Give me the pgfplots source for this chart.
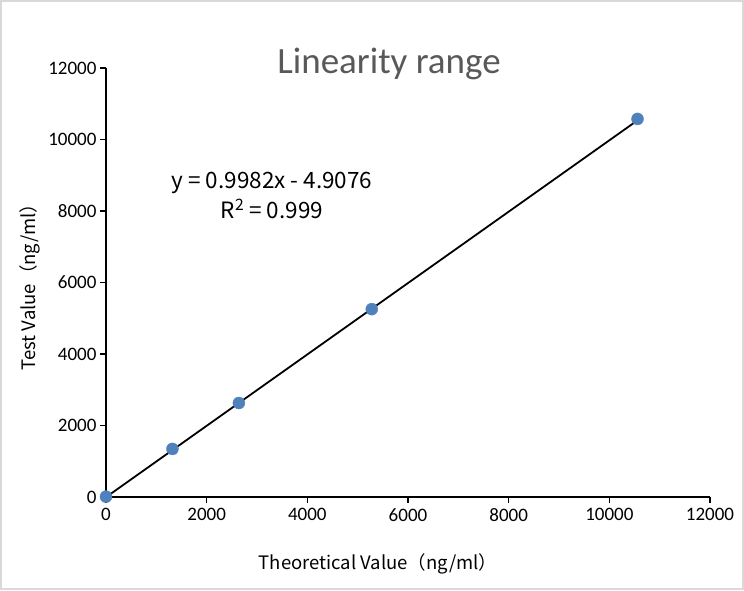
\documentclass[border=0pt]{standalone}
\usepackage{pgfplots}
\pgfplotsset{compat=1.18}
\usepackage{fontspec}
\setmainfont{Carlito}
\newfontfamily\cjk{Noto Sans CJK SC}
\definecolor{ptblue}{RGB}{79,129,189}
\definecolor{titlegray}{RGB}{89,89,89}
\definecolor{framegray}{RGB}{217,217,217}
\begin{document}
\begin{tikzpicture}
\draw[framegray,line width=2pt] (1pt,1pt) rectangle (743pt,589pt);
\useasboundingbox (0pt,0pt) rectangle (744pt,590pt);
\begin{axis}[
    at={(106pt,93pt)}, anchor=origin,
    scale only axis, width=604pt, height=429pt,
    xmin=0, xmax=12000, ymin=0, ymax=12000,
    axis x line=bottom, axis y line=left,
    axis line style={line width=1.5pt,-},
    xtick={0,2000,...,12000}, ytick={0,2000,...,12000},
    tick style={black,line width=1.2pt},
    tick align=outside, major tick length=6pt,
    scaled ticks=false,
    /pgf/number format/assume math mode=true,
    /pgf/number format/1000 sep={},
    tick label style={font=\fontsize{19}{22}\selectfont},
    xticklabel style={yshift=-2pt},
    xlabel={\cjk Theoretical Value（ng/ml）},
    ylabel={\cjk Test Value（ng/ml）},
    xlabel style={font=\fontsize{18.5}{22}\selectfont, yshift=-25pt, xshift=-30pt},
    ylabel style={font=\fontsize{18.5}{22}\selectfont, yshift=1pt},
    clip=false,
]
\addplot[black, line width=1.8pt] coordinates {(0,-4.9) (10560,10536)};
\addplot[only marks, mark=*, mark size=6pt, ptblue, mark options={draw=ptblue,fill=ptblue}]
  coordinates {(0,10) (1320,1345) (2640,2630) (5280,5255) (10560,10575)};
\end{axis}
\node[titlegray, font=\fontsize{37}{42}\selectfont] at (389pt,526pt) {Linearity range};
\node[align=center, font=\cjk\fontsize{22.5}{30}\selectfont] at (272pt,395pt) {y = 0.9982x - 4.9076\\R\textsuperscript{2} = 0.999};
\end{tikzpicture}
\end{document}
